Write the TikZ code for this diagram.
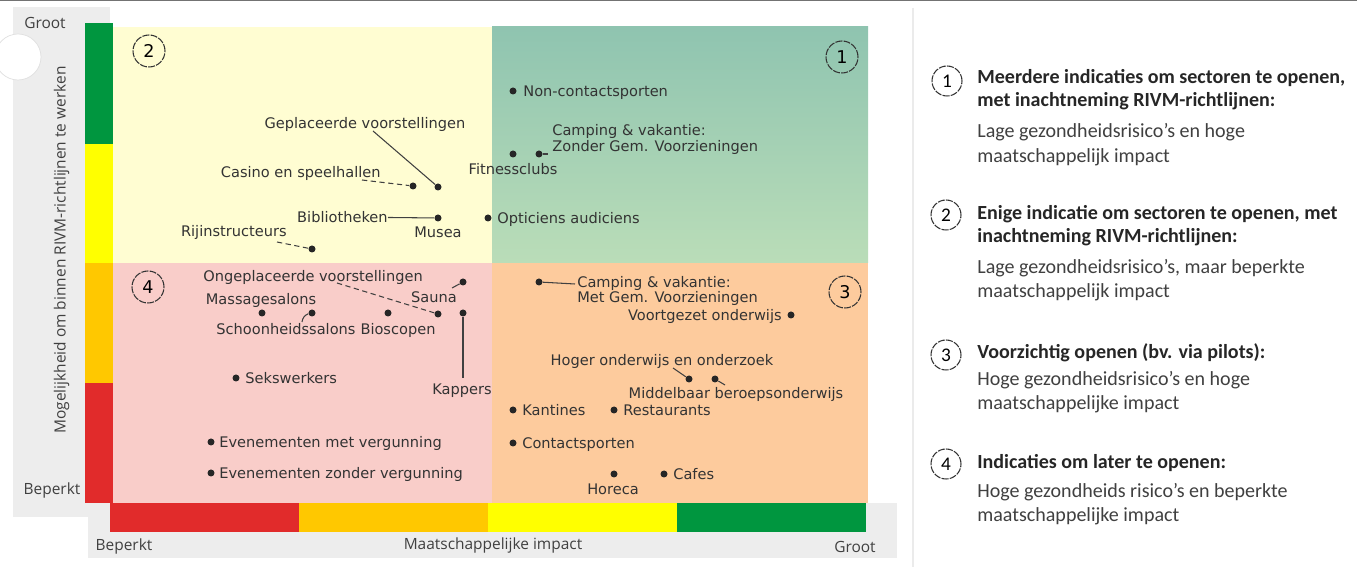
\documentclass[tikz,border=0pt]{standalone}
\usepackage{fontspec}
\setmainfont{DejaVu Sans}
\newfontfamily\asfont{Open Sans}
\newfontfamily\legfont{Carlito}
\usetikzlibrary{positioning}

\definecolor{balkgroen}{HTML}{00963F}
\definecolor{balkgeel}{HTML}{FFFF00}
\definecolor{balkoranje}{HTML}{FFC800}
\definecolor{balkrood}{HTML}{E12B2B}
\definecolor{vlakgeel}{HTML}{FFFDD2}
\definecolor{vlakgroenboven}{HTML}{8FC4B0}
\definecolor{vlakgroenonder}{HTML}{BADDB8}
\definecolor{vlakroze}{HTML}{F9CDC9}
\definecolor{vlakoranje}{HTML}{FDCB9D}
\definecolor{paneel}{HTML}{EDEDED}
\definecolor{tekst}{HTML}{333333}

\tikzset{
  punt/.style={circle, fill=black!85, inner sep=0pt, minimum size=0.14cm},
  lbl/.style={font=\fontsize{8.3}{10}\selectfont, text=tekst, inner sep=0pt, text height=6.8pt, text depth=0pt},
  lijn/.style={draw=black!75, line width=0.6pt},
  nummer/.style={circle, draw=black!80, line width=0.6pt, dash pattern=on 4pt off 0.7pt, minimum size=0.64cm, inner sep=0pt, font=\fontsize{10}{12}\selectfont},
  legnummer/.style={nummer, minimum size=0.6cm, font=\legfont\fontsize{11}{12}\selectfont},
  asbijschrift/.style={font=\asfont\fontsize{8.8}{10}\selectfont, text=black!75, inner sep=0pt, text height=6.3pt, text depth=0pt},
  legkop/.style={font=\legfont\bfseries\fontsize{11.4}{13}\selectfont, text=black!85, anchor=base west, inner sep=0pt},
  legtekst/.style={font=\legfont\fontsize{11.4}{13}\selectfont, text=black!75, anchor=base west, inner sep=0pt},
}

\begin{document}
\begin{tikzpicture}[x=0.02cm, y=-0.02cm]
	\useasboundingbox (0,0) rectangle (1357,567);
	\fill[white] (0,0) rectangle (1357,567);
	%rand boven en scheiding legenda
	\draw[black!55, line width=1pt] (0,0.5) -- (1357,0.5);
	\draw[black!8, line width=1pt] (913,8) -- (913,567);
	%grijze panelen
	\fill[paneel] (13,7) rectangle (110,517);
	\fill[paneel] (88,503) rectangle (897,558);
	\draw[black!12, fill=white] (18,57) circle (23);
	%verticale balk
	\fill[balkgroen] (85,23) rectangle (113,144);
	\fill[balkgeel] (85,144) rectangle (113,263);
	\fill[balkoranje] (85,263) rectangle (113,383);
	\fill[balkrood] (85,383) rectangle (113,503);
	%horizontale balk
	\fill[balkrood] (110,503) rectangle (299,532);
	\fill[balkoranje] (299,503) rectangle (488,532);
	\fill[balkgeel] (488,503) rectangle (677,532);
	\fill[balkgroen] (677,503) rectangle (866,532);
	%kwadranten
	\fill[vlakgeel] (113,27) rectangle (492,263);
	\shade[top color=vlakgroenboven, bottom color=vlakgroenonder] (492,27) rectangle (868,263);
	\fill[vlakroze] (113,263) rectangle (492,503);
	\fill[vlakoranje] (492,263) rectangle (868,503);
	\node[nummer] (n2) at (149,51) {2};
	\node[nummer] (n1) at (842,57) {1};
	\node[nummer] (n4) at (148,287) {4};
	\node[nummer] (n3) at (845,292) {3};
	%kwadrant 2
	\node[punt] (d-gepl) at (438,187) {};
	\node[lbl] (l-gepl) at (365,123) {Geplaceerde voorstellingen};
	\coordinate (c-gepl) at (373,131);
	\draw[lijn] (c-gepl) -- (d-gepl);
	\node[punt] (d-casino) at (413,186) {};
	\node[lbl, anchor=east] (l-casino) at (381,172) {Casino en speelhallen};
	\coordinate (c-casino) at (362,180);
	\draw[lijn, densely dashed] (c-casino) -- (d-casino);
	\node[punt] (d-musea) at (438,218) {};
	\node[lbl, anchor=east] (l-bibl) at (388,217) {Bibliotheken};
	\draw[lijn] (l-bibl) -- (d-musea);
	\node[lbl] (l-musea) at (438,232) {Musea};
	\node[punt] (d-rij) at (312,249) {};
	\node[lbl, anchor=east] (l-rij) at (287,231) {Rijinstructeurs};
	\coordinate (c-rij) at (277,242);
	\draw[lijn, densely dashed] (c-rij) -- (d-rij);
	\node[punt] (d-opt) at (488,218) {};
	\node[lbl, anchor=west] (l-opt) at (497,218) {Opticiens audiciens};
	%kwadrant 1
	\node[punt] (d-noncontact) at (513,91) {};
	\node[lbl, anchor=west] (l-noncontact) at (523,91) {Non-contactsporten};
	\node[punt] (d-fitness) at (513,154) {};
	\node[lbl] (l-fitness) at (513,169) {Fitnessclubs};
	\node[punt] (d-campz) at (539,154) {};
	\node[lbl, anchor=west] (l-campz1) at (552,130) {Camping \& vakantie:};
	\node[lbl, anchor=west] (l-campz2) at (552,146) {Zonder Gem. Voorzieningen};
	\coordinate (c-campz) at (548,154);
	\draw[lijn] (d-campz) -- (c-campz);
	%kwadrant 4
	\node[punt] (d-ongepl) at (438,314) {};
	\node[lbl, anchor=west] (l-ongepl) at (203,276) {Ongeplaceerde voorstellingen};
	\coordinate (c-ongepl) at (337,283);
	\draw[lijn, densely dashed] (c-ongepl) -- (d-ongepl);
	\node[punt] (d-sauna) at (463,282) {};
	\node[lbl] (l-sauna) at (434,297) {Sauna};
	\coordinate (c-sauna) at (452,288);
	\draw[lijn] (c-sauna) -- (d-sauna);
	\node[punt] (d-massage) at (262,313) {};
	\node[lbl] (l-massage) at (261,299) {Massagesalons};
	\node[punt] (d-schoon) at (312,313) {};
	\node[lbl] (l-schoon) at (286,329) {Schoonheidssalons};
	\coordinate (c-schoon) at (302,322);
	\draw[lijn] (c-schoon) to[bend left=30] (d-schoon);
	\node[punt] (d-bios) at (388,313) {};
	\node[lbl] (l-bios) at (398,329) {Bioscopen};
	\node[punt] (d-kappers) at (463,313) {};
	\node[lbl] (l-kappers) at (462,389) {Kappers};
	\coordinate (c-kappers) at (463,378);
	\draw[lijn] (d-kappers) -- (c-kappers);
	\node[punt] (d-seks) at (236,378) {};
	\node[lbl, anchor=west] (l-seks) at (245,378) {Sekswerkers};
	\node[punt] (d-evmet) at (211,442) {};
	\node[lbl, anchor=west] (l-evmet) at (219,442) {Evenementen met vergunning};
	\node[punt] (d-evzonder) at (211,473) {};
	\node[lbl, anchor=west] (l-evzonder) at (219,473) {Evenementen zonder vergunning};
	%kwadrant 3
	\node[punt] (d-campm) at (539,282) {};
	\node[lbl, anchor=west] (l-campm1) at (577,282) {Camping \& vakantie:};
	\node[lbl, anchor=west] (l-campm2) at (577,297) {Met Gem. Voorzieningen};
	\coordinate (c-campm) at (575,284);
	\draw[lijn] (d-campm) -- (c-campm);
	\node[punt] (d-voortgezet) at (791,315) {};
	\node[lbl, anchor=east] (l-voortgezet) at (782,315) {Voortgezet onderwijs};
	\node[punt] (d-hoger) at (689,379) {};
	\node[lbl] (l-hoger) at (662,360) {Hoger onderwijs en onderzoek};
	\coordinate (c-hoger) at (673,368);
	\draw[lijn] (c-hoger) -- (d-hoger);
	\node[punt] (d-mbo) at (715,379) {};
	\node[lbl] (l-mbo) at (736,393) {Middelbaar beroepsonderwijs};
	\coordinate (c-mbo) at (725,385);
	\draw[lijn] (d-mbo) -- (c-mbo);
	\node[punt] (d-kantines) at (513,410) {};
	\node[lbl, anchor=west] (l-kantines) at (522,410) {Kantines};
	\node[punt] (d-rest) at (614,410) {};
	\node[lbl, anchor=west] (l-rest) at (623,410) {Restaurants};
	\node[punt] (d-contact) at (513,443) {};
	\node[lbl, anchor=west] (l-contact) at (522,443) {Contactsporten};
	\node[punt] (d-horeca) at (614,474) {};
	\node[lbl] (l-horeca) at (613,489) {Horeca};
	\node[punt] (d-cafes) at (664,474) {};
	\node[lbl, anchor=west] (l-cafes) at (673,474) {Cafes};
	%assen
	\node[asbijschrift] (as-groot-y) at (45,23) {Groot};
	\node[asbijschrift] (as-beperkt-y) at (52,489) {Beperkt};
	\node[asbijschrift, rotate=90] (as-y) at (60,250) {Mogelijkheid om binnen RIVM-richtlijnen te werken};
	\node[asbijschrift] (as-beperkt-x) at (124,545) {Beperkt};
	\node[asbijschrift] (as-x) at (493,544) {Maatschappelijke impact};
	\node[asbijschrift] (as-groot-x) at (855,547) {Groot};
	%legenda
	\node[legnummer] (leg-n1) at (947,81) {1};
	\node[legkop] (leg1a) at (977,84) {Meerdere indicaties om sectoren te openen,};
	\node[legkop] (leg1b) at (977,107) {met inachtneming RIVM-richtlijnen:};
	\node[legtekst] (leg1c) at (977,138) {Lage gezondheidsrisico’s en hoge};
	\node[legtekst] (leg1d) at (977,163) {maatschappelijk impact};
	\node[legnummer] (leg-n2) at (946,215) {2};
	\node[legkop] (leg2a) at (977,220) {Enige indicatie om sectoren te openen, met};
	\node[legkop] (leg2b) at (977,243) {inachtneming RIVM-richtlijnen:};
	\node[legtekst] (leg2c) at (977,274) {Lage gezondheidsrisico’s, maar beperkte};
	\node[legtekst] (leg2d) at (977,298) {maatschappelijk impact};
	\node[legnummer] (leg-n3) at (946,355) {3};
	\node[legkop] (leg3a) at (977,359) {Voorzichtig openen (bv. via pilots):};
	\node[legtekst] (leg3b) at (977,386) {Hoge gezondheidsrisico’s en hoge};
	\node[legtekst] (leg3c) at (977,410) {maatschappelijke impact};
	\node[legnummer] (leg-n4) at (946,464) {4};
	\node[legkop] (leg4a) at (977,469) {Indicaties om later te openen:};
	\node[legtekst] (leg4b) at (977,498) {Hoge gezondheids risico’s en beperkte};
	\node[legtekst] (leg4c) at (977,522) {maatschappelijke impact};
\end{tikzpicture}
\end{document}
